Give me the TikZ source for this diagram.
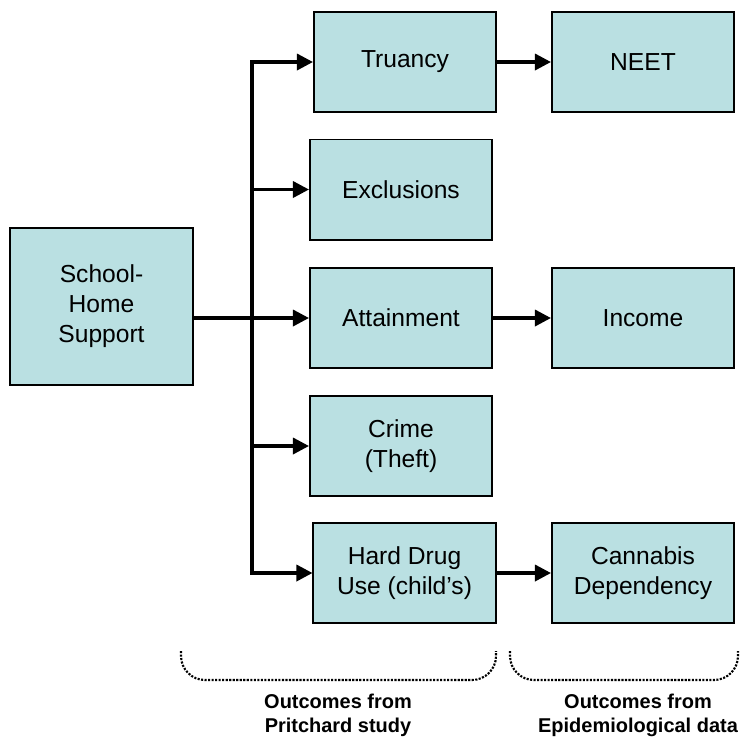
\documentclass[tikz,border=0pt]{standalone}
\usepackage{fontspec}
\setmainfont{Liberation Sans}
\usetikzlibrary{arrows.meta}
\definecolor{boxblue}{RGB}{186,224,226}

\begin{document}
\begin{tikzpicture}[x=0.025cm,y=-0.025cm,
  outcome/.style={draw=black,line width=1.4pt,fill=boxblue,minimum width=4.55cm,minimum height=2.5cm,
    align=center,inner sep=0pt,font=\fontsize{17.5pt}{21.3pt}\selectfont},
  link/.style={line width=2.4pt},
  arr/.style={link,-{Triangle[length=4mm,width=4mm]}},
  bracket/.style={line width=1.5pt,densely dotted,rounded corners=6mm},
  caption/.style={align=center,font=\fontsize{14.2pt}{17pt}\selectfont\bfseries}]
 \useasboundingbox (0,0) rectangle (740,739);

 % the intervention
 \node[outcome,minimum width=4.575cm,minimum height=3.925cm] (school) at (101.5,306.5) {School-\\Home\\Support};

 % outcomes from the study
 \node[outcome] (truancy) at (405,62) {Truancy};
 \node[outcome] (excl) at (401,189.5) {Exclusions};
 \node[outcome] (attain) at (401,318) {Attainment};
 \node[outcome] (crime) at (401,446) {Crime\\(Theft)};
 \node[outcome] (drug) at (404.5,573) {Hard Drug\\Use (child’s)};

 % longer term outcomes
 \node[outcome] (neet) at (643,62) {NEET};
 \node[outcome] (income) at (643,318) {Income};
 \node[outcome] (cannabis) at (643,573) {Cannabis\\Dependency};

 % trunk and branches
 \coordinate (trunk) at (252,0);
 \draw[link,line cap=rect] (trunk |- truancy.west) -- (trunk |- drug.west);
 \foreach \n in {truancy,excl,crime,drug}
   \draw[arr] (trunk |- \n.west) -- (\n.west);
 \draw[arr] (school.east |- attain.west) -- (attain.west);

 \draw[arr] (truancy.east) -- (neet.west);
 \draw[arr] (attain.east) -- (income.west);
 \draw[arr] (drug.east) -- (cannabis.west);

 % dotted brackets
 \draw[bracket] (181,651) -- (181,680) -- (496,680) -- (496,651);
 \draw[bracket] (510,651) -- (510,680) -- (738,680) -- (738,651);
 \node[caption] (pritchard) at (338,715) {Outcomes from\\Pritchard study};
 \node[caption] (epidem) at (638,715) {Outcomes from\\Epidemiological data};
\end{tikzpicture}
\end{document}
